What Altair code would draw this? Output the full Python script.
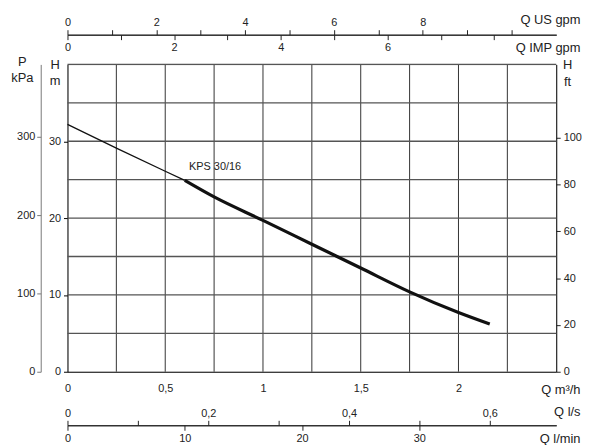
import altair as alt
import pandas as pd

# ---- data ----
curve_name = "KPS 30/16"
q_m3h = [0.0, 0.25, 0.5, 0.6, 0.75, 1.0, 1.25, 1.5, 1.75, 2.0, 2.16]
h_m = [32.2, 29.1, 26.1, 24.9, 22.75, 19.7, 16.6, 13.5, 10.4, 7.7, 6.2]
thick_from = 0.6
label_q = [0.755]
label_h = [26.7]

q_max = 2.5
h_max = 40

q_grid = [0.25, 0.5, 0.75, 1.0, 1.25, 1.5, 1.75, 2.0, 2.25]
h_grid = [5, 10, 15, 20, 25, 30, 35, 40]

m3h_labels = [0, 0.5, 1, 1.5, 2]
h_m_ticks = [0, 10, 20, 30]
p_kpa_ticks = [0, 100, 200, 300]
h_ft_ticks = [0, 20, 40, 60, 80, 100]
us_gpm_ticks = [0, 1, 2, 3, 4, 5, 6, 7, 8, 9, 10]
us_gpm_labels = [0, 2, 4, 6, 8]
imp_gpm_ticks = [0, 1, 2, 3, 4, 5, 6, 7, 8]
imp_gpm_labels = [0, 2, 4, 6]
ls_ticks = [0, 0.1, 0.2, 0.3, 0.4, 0.5, 0.6]
ls_labels = [0, 0.2, 0.4, 0.6]
lmin_ticks = [0, 10, 20, 30]

# unit conversions (from m3/h and m)
US_GPM = 4.40287
IMP_GPM = 3.66615
LS = 1 / 3.6
LMIN = 1000 / 60
KPA = 9.80665
FT = 3.28084

FONT = "Liberation Sans"
INK = "#222222"

curve = pd.DataFrame({"q": q_m3h, "h": h_m})


def lbl_expr(shown):
    arr = "[" + ",".join(str(v) for v in shown) + "]"
    return ("indexof(" + arr + ", datum.value) >= 0 ? "
            "replace(format(datum.value, '~g'), '.', ',') : ''")


def axis(**kw):
    base = dict(
        labelFont=FONT, labelFontSize=11, labelColor=INK,
        tickColor=INK, domainColor=INK, domainWidth=1, tickWidth=1,
        labelFlush=False, labelOverlap=False, grid=False,
        titleFont=FONT, titleFontSize=13, titleFontWeight="normal",
        titleColor=INK, titleAngle=0,
    )
    base.update(kw)
    return alt.Axis(**base)


xs = alt.Scale(domain=[0, q_max], nice=False, zero=False)
ys = alt.Scale(domain=[0, h_max], nice=False, zero=False)

thin = alt.Chart(curve).transform_filter(alt.datum.q <= thick_from).mark_line(
    color="#111111", strokeWidth=1.3).encode(
    x=alt.X("q:Q", scale=xs, axis=None),
    y=alt.Y("h:Q", scale=ys, axis=None))
thick = alt.Chart(curve).transform_filter(alt.datum.q >= thick_from).mark_line(
    color="#111111", strokeWidth=3.2, interpolate="monotone").encode(
    x=alt.X("q:Q", scale=xs, axis=None),
    y=alt.Y("h:Q", scale=ys, axis=None))

vgrid = alt.Chart(pd.DataFrame({"q": q_grid})).mark_rule(
    color="#333333", strokeWidth=1).encode(x=alt.X("q:Q", scale=xs, axis=None))
hgrid = alt.Chart(pd.DataFrame({"h": h_grid})).mark_rule(
    color="#555555", strokeWidth=1.3).encode(y=alt.Y("h:Q", scale=ys, axis=None))

label = alt.Chart(pd.DataFrame({"q": label_q, "h": label_h, "t": [curve_name]})).mark_text(
    font=FONT, fontSize=11, color=INK).encode(
    x=alt.X("q:Q", scale=xs, axis=None),
    y=alt.Y("h:Q", scale=ys, axis=None), text="t:N")

main = alt.layer(vgrid, hgrid, thin, thick, label)


def x_axis_layer(ticks, domain, ax):
    return alt.Chart(pd.DataFrame({"v": ticks})).mark_tick(opacity=0).encode(
        x=alt.X("v:Q", scale=alt.Scale(domain=domain, nice=False, zero=False), axis=ax))


def y_axis_layer(ticks, domain, ax):
    return alt.Chart(pd.DataFrame({"v": ticks})).mark_tick(opacity=0).encode(
        y=alt.Y("v:Q", scale=alt.Scale(domain=domain, nice=False, zero=False), axis=ax))


m3h = x_axis_layer(m3h_labels, [0, q_max], axis(
    orient="bottom", values=m3h_labels, labelExpr=lbl_expr(m3h_labels),
    ticks=False, labelPadding=11, title="Q m³/h", domainColor="#000000",
    titleX=517, titleY=18, titleAlign="right", titleBaseline="middle"))
hm = y_axis_layer(h_m_ticks, [0, h_max], axis(
    orient="left", values=h_m_ticks, labelExpr=lbl_expr(h_m_ticks),
    tickSize=4, labelPadding=3, domainColor="#000000", tickColor="#000000",
    title=["H", "m"], titleX=-13, titleY=-6, titleAlign="center",
    titleBaseline="top", titleLineHeight=16))
us = x_axis_layer(us_gpm_ticks, [0, q_max * US_GPM], axis(
    orient="top", offset=30, values=us_gpm_ticks, labelExpr=lbl_expr(us_gpm_labels),
    tickSize=5, labelPadding=2, title="Q US gpm",
    titleX=517, titleY=-15, titleAlign="right", titleBaseline="middle"))
imp = x_axis_layer(imp_gpm_ticks, [0, q_max * IMP_GPM], axis(
    orient="bottom", offset=-340, values=imp_gpm_ticks, labelExpr=lbl_expr(imp_gpm_labels),
    tickSize=5, labelPadding=2, title="Q IMP gpm",
    titleX=517, titleY=13, titleAlign="right", titleBaseline="middle"))
ls = x_axis_layer(ls_ticks, [0, q_max * LS], axis(
    orient="top", offset=-364, values=ls_ticks, labelExpr=lbl_expr(ls_labels),
    tickSize=5, labelPadding=2, title="Q l/s",
    titleX=517, titleY=-14, titleAlign="right", titleBaseline="middle"))
lmin = x_axis_layer(lmin_ticks, [0, q_max * LMIN], axis(
    orient="bottom", offset=54, values=lmin_ticks, labelExpr=lbl_expr(lmin_ticks),
    tickSize=5, labelPadding=2, title="Q l/min",
    titleX=517, titleY=13, titleAlign="right", titleBaseline="middle"))
kpa = y_axis_layer(p_kpa_ticks, [0, h_max * KPA], axis(
    orient="left", offset=27, values=p_kpa_ticks, labelExpr=lbl_expr(p_kpa_ticks),
    tickSize=4, labelPadding=2, title=["P", "kPa"],
    domainColor="#777777", tickColor="#777777",
    titleX=-19, titleY=-9, titleAlign="center", titleBaseline="top", titleLineHeight=16))
ft = y_axis_layer(h_ft_ticks, [0, h_max * FT], axis(
    orient="right", offset=0, values=h_ft_ticks, labelExpr=lbl_expr(h_ft_ticks),
    tickSize=4, labelPadding=3, title=["H", "ft"], domainColor="#000000",
    titleX=11, titleY=-6, titleAlign="center", titleBaseline="top", titleLineHeight=17))

chart = alt.layer(main, m3h, hm, us, imp, ls, lmin, kpa, ft).resolve_scale(
    x="independent", y="independent").properties(
    width=493, height=310,
    padding={"left": 60, "top": 55, "right": 26, "bottom": 74},
    autosize=alt.AutoSizeParams(type="none"),
).configure_view(strokeWidth=0).configure(background="white")

chart.save("out.html", embed_options={"renderer": "svg", "actions": False})
